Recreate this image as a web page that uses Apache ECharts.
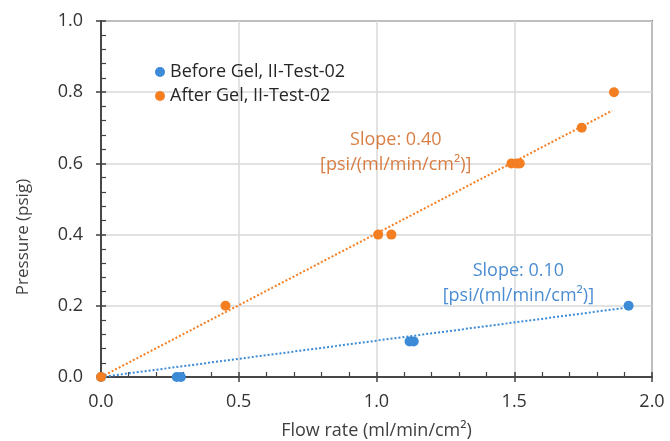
<!DOCTYPE html>
<html><head><meta charset="utf-8">
<script src="https://cdn.jsdelivr.net/npm/echarts@6/dist/echarts.min.js"></script>
<style>html,body{margin:0;padding:0;background:#fff}#c{width:670px;height:441px}</style>
</head><body><div id="c"></div>
<script>
const beforeX = [0, 0.275, 0.29, 1.12, 1.135, 1.915];
const beforeY = [0, 0, 0, 0.1, 0.1, 0.2];
const afterX = [0, 0.452, 1.006, 1.054, 1.49, 1.51, 1.52, 1.745, 1.862];
const afterY = [0, 0.2, 0.4, 0.4, 0.6, 0.6, 0.6, 0.7, 0.8];
const beforeTrendX = [0, 1.9];
const beforeTrendY = [0, 0.194];
const afterTrendX = [0, 1.855];
const afterTrendY = [0, 0.748];
const seriesNames = ['Before Gel, II-Test-02', 'After Gel, II-Test-02'];
const slopeLabels = ['Slope: 0.10\n[psi/(ml/min/cm²)]', 'Slope: 0.40\n[psi/(ml/min/cm²)]'];
const xTitle = 'Flow rate (ml/min/cm²)';
const yTitle = 'Pressure (psig)';

const BLUE = '#3b8bd6', ORANGE = '#f47e22';
const FONT = 'Open Sans';
const zip = (a, b) => a.map((v, i) => [v, b[i]]);

const chart = echarts.init(document.getElementById('c'), null, {renderer: 'canvas'});
const axisLine = {show: true, lineStyle: {color: '#404040', width: 1.5}};
const baseX = {type: 'value', min: 0, max: 2, interval: 0.5};
const baseY = {type: 'value', min: 0, max: 1, interval: 0.2};
chart.setOption({
  animation: false,
  grid: {left: 101, right: 18, top: 21, bottom: 64, show: true, borderColor: '#404040', borderWidth: 1.5,
    outerBoundsMode: 'none', containLabel: false},
  legend: {
    left: 150, top: 58, orient: 'vertical', itemGap: 6, icon: 'circle', itemWidth: 10, itemHeight: 10,
    data: seriesNames,
    textStyle: {fontFamily: FONT, fontSize: 18, color: '#262626'}
  },
  graphic: [{
    type: 'text', x: 23, y: 237, rotation: Math.PI / 2,
    style: {text: yTitle, fontFamily: FONT, fontSize: 17, fill: '#404040', align: 'center', verticalAlign: 'middle'}
  }],
  xAxis: [
    Object.assign({}, baseX, {
      name: xTitle, nameLocation: 'middle', nameGap: 45,
      nameTextStyle: {fontFamily: FONT, fontSize: 18, color: '#404040'},
      axisLine: axisLine,
      axisTick: {show: true, inside: false, length: 5, lineStyle: {color: '#404040', width: 1.5}},
      axisLabel: {fontFamily: FONT, fontSize: 18, color: '#333', margin: 16, formatter: v => v.toFixed(1)},
      splitLine: {show: true, lineStyle: {color: '#d9d9d9', width: 1.5}}
    }),
    Object.assign({}, baseX, {
      position: 'bottom',
      axisLine: axisLine,
      axisTick: {show: true, inside: true, length: 5, lineStyle: {color: '#404040', width: 1.5}},
      minorTick: {show: true, splitNumber: 5, length: 5, lineStyle: {color: '#404040', width: 1.2}},
      axisLabel: {show: false}, splitLine: {show: false}
    })
  ],
  yAxis: [
    Object.assign({}, baseY, {
      axisLine: axisLine,
      axisTick: {show: true, inside: false, length: 5, lineStyle: {color: '#404040', width: 1.5}},
      axisLabel: {fontFamily: FONT, fontSize: 18, color: '#333', margin: 18, formatter: v => v.toFixed(1)},
      splitLine: {show: true, lineStyle: {color: '#d9d9d9', width: 1.5}}
    }),
    Object.assign({}, baseY, {
      position: 'left',
      axisLine: axisLine,
      axisTick: {show: true, inside: true, length: 5, lineStyle: {color: '#404040', width: 1.5}},
      minorTick: {show: true, splitNumber: 5, length: 5, lineStyle: {color: '#404040', width: 1.2}},
      axisLabel: {show: false}, splitLine: {show: false}
    })
  ],
  series: [
    {
      name: seriesNames[0] + ' trend', type: 'line', data: zip(beforeTrendX, beforeTrendY),
      symbol: 'none', lineStyle: {color: BLUE, width: 2, type: [2, 2]}, z: 2
    },
    {
      name: seriesNames[1] + ' trend', type: 'line', data: zip(afterTrendX, afterTrendY),
      symbol: 'none', lineStyle: {color: ORANGE, width: 2, type: [2, 2]}, z: 2
    },
    {
      name: seriesNames[0], type: 'scatter', data: zip(beforeX, beforeY), symbolSize: 10,
      itemStyle: {color: BLUE, opacity: 1}, z: 3
    },
    {
      name: seriesNames[1], type: 'scatter', data: zip(afterX, afterY), symbolSize: 10,
      itemStyle: {color: ORANGE, opacity: 1}, z: 4
    },
    {
      type: 'scatter', silent: true, symbolSize: 0, data: [[1.515, 0.262]],
      label: {show: true, position: 'inside', formatter: slopeLabels[0], fontFamily: FONT, fontSize: 18,
        color: '#1b6fc6', lineHeight: 25, align: 'center', verticalAlign: 'middle'}
    },
    {
      type: 'scatter', silent: true, symbolSize: 0, data: [[1.07, 0.632]],
      label: {show: true, position: 'inside', formatter: slopeLabels[1], fontFamily: FONT, fontSize: 18,
        color: '#cf5e16', lineHeight: 25, align: 'center', verticalAlign: 'middle'}
    }
  ]
});
</script></body></html>
